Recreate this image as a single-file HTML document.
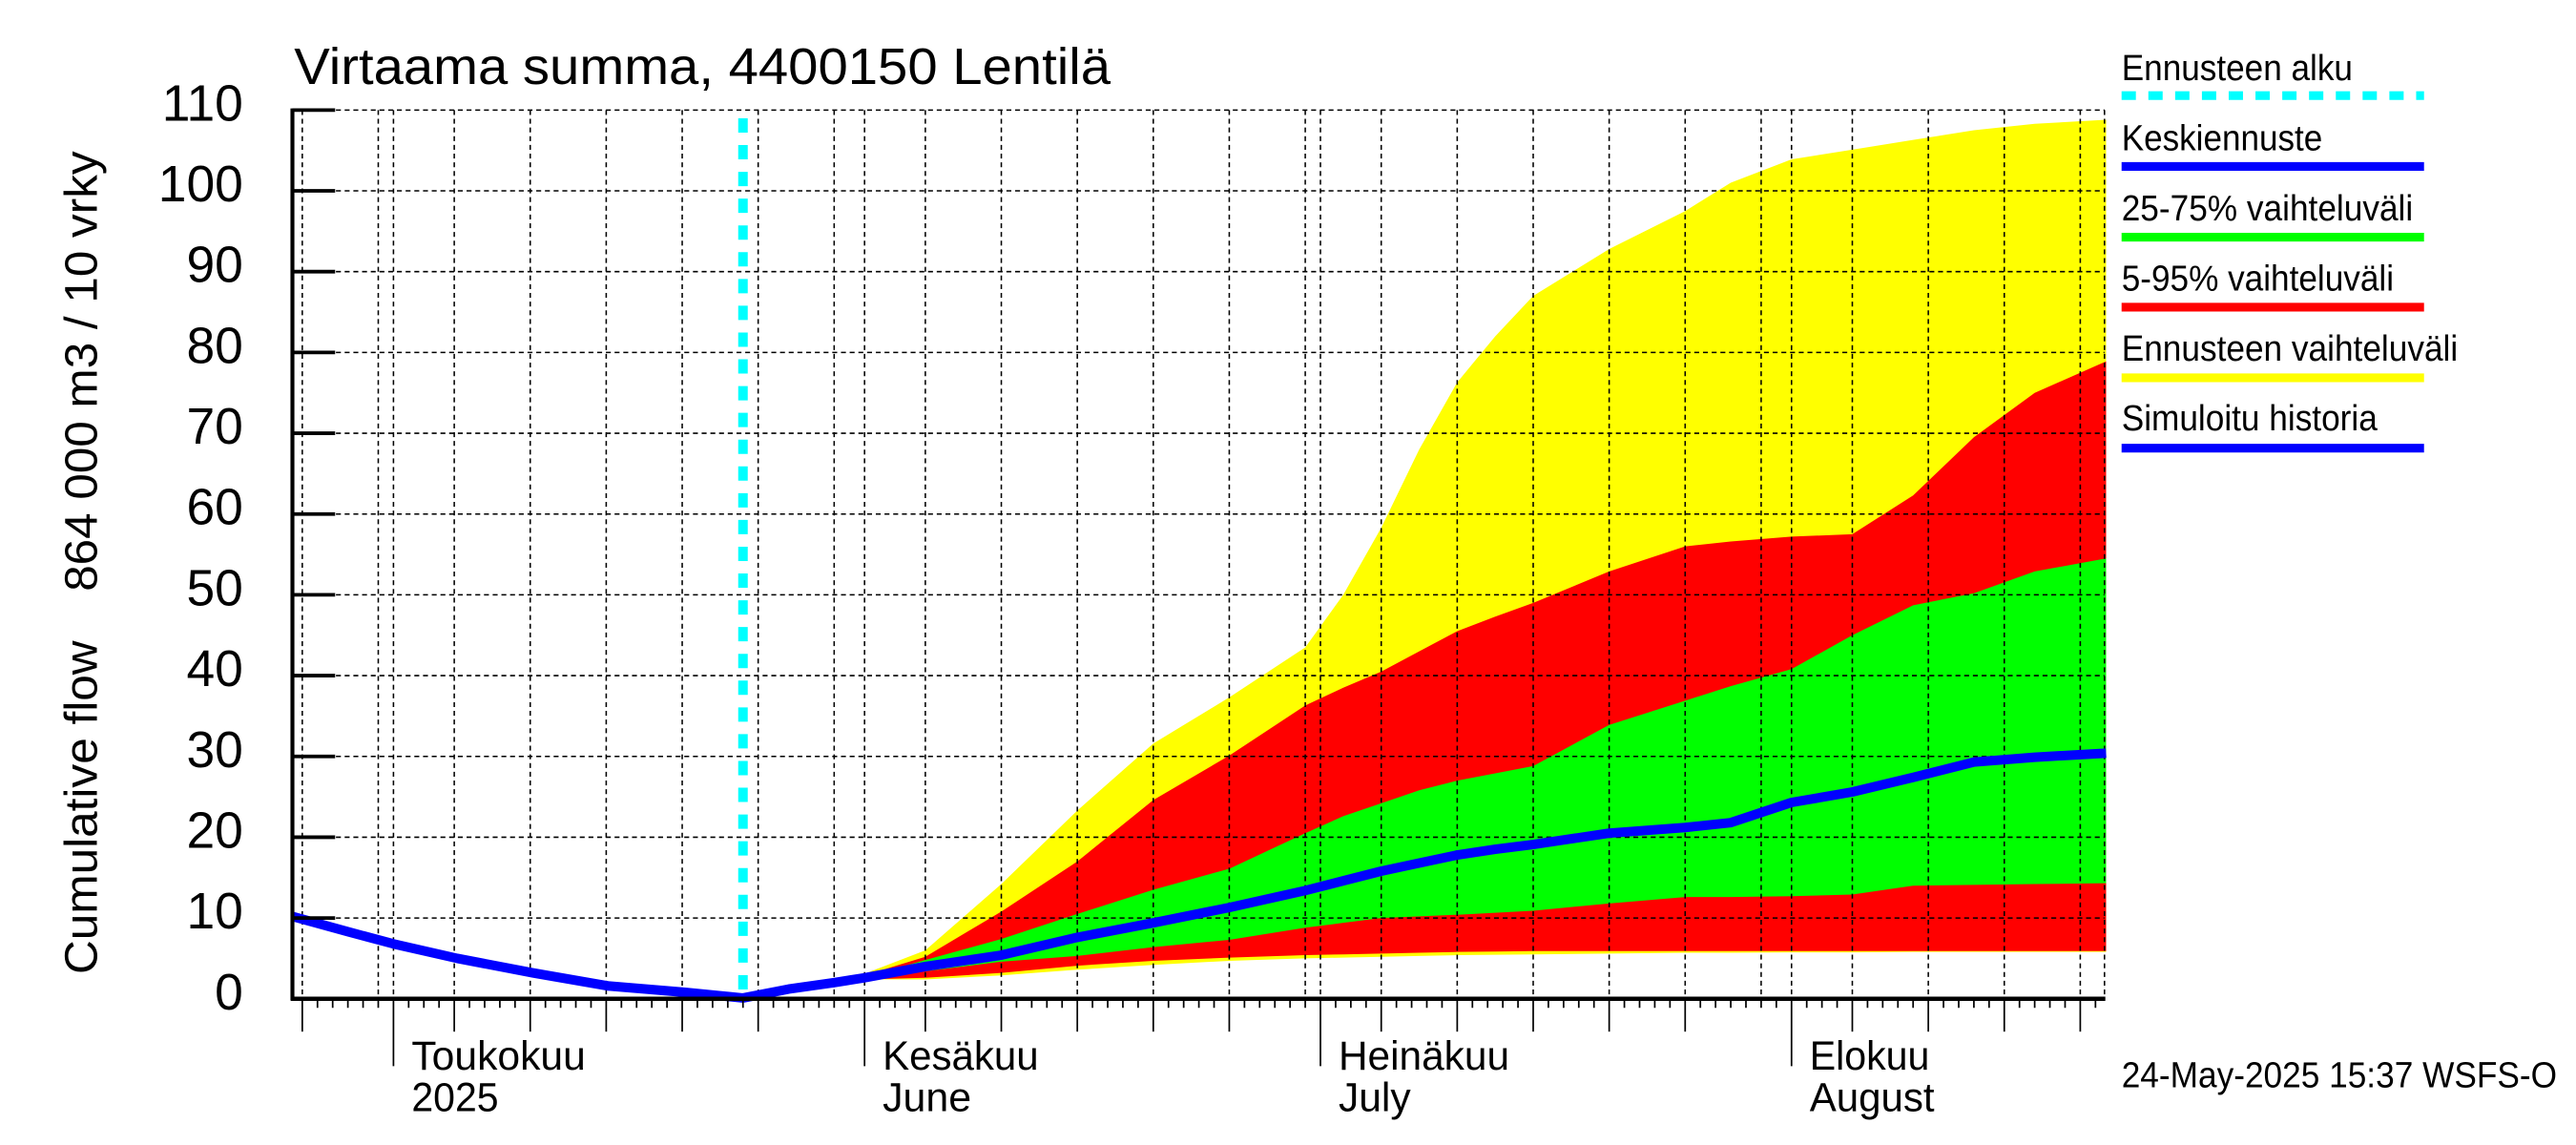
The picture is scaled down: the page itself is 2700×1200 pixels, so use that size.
<!DOCTYPE html>
<html><head><meta charset="utf-8"><title>Virtaama summa</title>
<style>html,body{margin:0;padding:0;background:#fff;}svg{display:block;}text{font-family:"Liberation Sans",sans-serif;fill:#000;}</style>
</head><body>
<svg id="chart" xmlns="http://www.w3.org/2000/svg" width="2700" height="1200" viewBox="0 0 1568 697" preserveAspectRatio="none">
<rect x="0" y="0" width="1568" height="697" fill="#fff"/>
<g id="bands"></g>
<g id="grid"></g>
<g id="series"></g>
<g id="axes"></g>
<text x="179" y="51" font-size="31" textLength="497" lengthAdjust="spacingAndGlyphs">Virtaama summa, 4400150 Lentilä</text>
<text transform="translate(59,593) rotate(-90)" font-size="28" textLength="203" lengthAdjust="spacingAndGlyphs">Cumulative flow</text>
<text transform="translate(59,360) rotate(-90)" font-size="28" textLength="268" lengthAdjust="spacingAndGlyphs">864 000 m3 / 10 vrky</text>
<g>
<text x="1291.4" y="48.9" font-size="22" textLength="140.7" lengthAdjust="spacingAndGlyphs">Ennusteen alku</text>
<line x1="1291.4" y1="58.2" x2="1475.5" y2="58.2" stroke="#00ffff" stroke-width="5.3" stroke-dasharray="8.7 7.6"/>
<text x="1291.4" y="91.5" font-size="22" textLength="122.3" lengthAdjust="spacingAndGlyphs">Keskiennuste</text>
<line x1="1291.4" y1="101.3" x2="1475.5" y2="101.3" stroke="#0000ff" stroke-width="5.3"/>
<text x="1291.4" y="134.2" font-size="22" textLength="177.4" lengthAdjust="spacingAndGlyphs">25-75% vaihteluväli</text>
<line x1="1291.4" y1="144.4" x2="1475.5" y2="144.4" stroke="#00ff00" stroke-width="5.3"/>
<text x="1291.4" y="176.8" font-size="22" textLength="165.7" lengthAdjust="spacingAndGlyphs">5-95% vaihteluväli</text>
<line x1="1291.4" y1="187" x2="1475.5" y2="187" stroke="#ff0000" stroke-width="5.3"/>
<text x="1291.4" y="219.5" font-size="22" textLength="204.7" lengthAdjust="spacingAndGlyphs">Ennusteen vaihteluväli</text>
<line x1="1291.4" y1="230" x2="1475.5" y2="230" stroke="#ffff00" stroke-width="5.3"/>
<text x="1291.4" y="262.1" font-size="22" textLength="155.7" lengthAdjust="spacingAndGlyphs">Simuloitu historia</text>
<line x1="1291.4" y1="272.8" x2="1475.5" y2="272.8" stroke="#0000ff" stroke-width="5.3"/>
</g>
<text x="1291.4" y="662" font-size="22" textLength="265" lengthAdjust="spacingAndGlyphs">24-May-2025 15:37 WSFS-O</text>
</svg>
<script>
// Days relative to 1 May 2025
const forecastDays = [23, 26, 29, 31, 35, 40, 45, 50, 55, 60, 62.5, 65, 67.5, 70, 72.5, 75, 80, 85, 88, 92, 96, 100, 104, 108, 112.7];
const maxValues = [0.1, 1.2, 2.0, 3.1, 6.0, 14.2, 23.3, 31.6, 37.3, 43.5, 50, 58.3, 68, 76.3, 82, 87, 92.8, 97.5, 101, 103.9, 105.1, 106.3, 107.5, 108.3, 108.8];
const p95Values = [0.1, 1.2, 2.0, 2.9, 5.2, 10.8, 17.0, 24.6, 30.1, 36.3, 38.5, 40.5, 43, 45.5, 47.3, 49.0, 52.9, 56.0, 56.6, 57.2, 57.5, 62.3, 69.5, 75.0, 78.9];
const p75Values = [0.1, 1.2, 2.0, 2.7, 4.8, 7.4, 10.5, 13.5, 16.1, 20.5, 22.6, 24.2, 25.8, 27.0, 27.9, 28.8, 33.9, 36.9, 38.7, 40.8, 45.0, 48.7, 50.2, 52.9, 54.5];
const medianValues = [0.1, 1.2, 2.0, 2.6, 4.0, 5.4, 7.6, 9.4, 11.3, 13.4, 14.6, 15.8, 16.8, 17.8, 18.5, 19.1, 20.5, 21.2, 21.8, 24.3, 25.6, 27.4, 29.3, 29.9, 30.4];
const p25Values = [0.1, 1.2, 2.0, 2.5, 3.4, 4.6, 5.3, 6.4, 7.3, 8.8, 9.4, 10.0, 10.2, 10.4, 10.65, 10.9, 11.8, 12.6, 12.6, 12.7, 12.9, 14.0, 14.1, 14.2, 14.3];
const p5Values = [0.1, 1.2, 2.0, 2.4, 2.6, 3.2, 4.1, 4.7, 5.1, 5.4, 5.5, 5.6, 5.7, 5.8, 5.85, 5.9, 5.9, 5.9, 5.9, 5.9, 5.9, 5.9, 5.9, 5.9, 5.9];
const minValues = [0.1, 1.2, 2.0, 2.4, 2.4, 2.9, 3.6, 4.2, 4.7, 5.0, 5.1, 5.2, 5.3, 5.4, 5.45, 5.5, 5.6, 5.7, 5.7, 5.75, 5.75, 5.8, 5.8, 5.8, 5.8];
const historyDays = [-6.65, -3, 0, 4.2, 9.2, 14.1, 19.2, 23];
const historyValues = [10.2, 8.3, 6.8, 5.0, 3.2, 1.6, 0.8, 0.1];
const yTicks = [0, 10, 20, 30, 40, 50, 60, 70, 80, 90, 100, 110];
const forecastStartDay = 23;
const monthStarts = [-30, 0, 31, 61, 92];
const monthNames = ["Huhtikuu", "Toukokuu", "Kesäkuu", "Heinäkuu", "Elokuu"];
const monthSub = ["", "2025", "June", "July", "August"];
const monthNameWidths = [0, 106, 95, 104, 73];
const monthSubWidths = [0, 53, 54, 44, 76];

const NS = "http://www.w3.org/2000/svg";
const X0 = 178, X1 = 1281, Y0 = 608, Y1 = 67;
const dayMin = -6.65, dayMax = 112.6;
function xs(d) { return 239.5 + 9.25 * d; }
function ys(v) { return Y0 - (v / 110) * (Y0 - Y1); }
function mk(tag, attrs, parent) {
  const e = document.createElementNS(NS, tag);
  for (const k in attrs) e.setAttribute(k, attrs[k]);
  parent.appendChild(e);
  return e;
}
const bands = document.getElementById('bands');
const grid = document.getElementById('grid');
const series = document.getElementById('series');
const axes = document.getElementById('axes');

function band(lo, hi, color, name) {
  const pts = [];
  for (let i = 0; i < forecastDays.length; i++) pts.push(xs(forecastDays[i]).toFixed(2) + ',' + ys(hi[i]).toFixed(2));
  for (let i = forecastDays.length - 1; i >= 0; i--) pts.push(xs(forecastDays[i]).toFixed(2) + ',' + ys(lo[i]).toFixed(2));
  const p = mk('polygon', { points: pts.join(' '), fill: color }, bands);
  
  
}
band(minValues, maxValues, '#ffff00', 'band-forecast-range');
band(p5Values, p95Values, '#ff0000', 'band-5-95');
band(p25Values, p75Values, '#00ff00', 'band-25-75');

for (const t of yTicks) {
  if (t === 0) continue;
  const l = mk('line', { x1: X0, x2: X1, y1: ys(t), y2: ys(t), stroke: '#000', 'stroke-width': 0.9, 'stroke-dasharray': '3 2.3' }, grid);
  
  
}
const monthLens = [30, 31, 30, 31, 31];
for (let m = 0; m < monthStarts.length; m++) {
  const dom = [1, 5, 10, 15, 20, 25, 30];
  for (const dd of dom) {
    if (dd > monthLens[m]) continue;
    const d = monthStarts[m] + dd - 1;
    if (d < dayMin || d > dayMax) continue;
    const l = mk('line', { x1: xs(d), x2: xs(d), y1: Y1, y2: Y0, stroke: '#000', 'stroke-width': 0.9, 'stroke-dasharray': '3 2.3' }, grid);
    
    
  }
}
const rEdge = mk('line', { x1: X1, x2: X1, y1: Y1, y2: Y0, stroke: '#000', 'stroke-width': 0.9, 'stroke-dasharray': '3 2.3' }, grid);



const fs = mk('line', { x1: xs(forecastStartDay), x2: xs(forecastStartDay), y1: 72, y2: Y0, stroke: '#00ffff', 'stroke-width': 5.8, 'stroke-dasharray': '8.7 7.6' }, series);



function line(days, vals, name) {
  const pts = days.map((d, i) => xs(d).toFixed(2) + ',' + ys(vals[i]).toFixed(2)).join(' ');
  const p = mk('polyline', { points: pts, fill: 'none', stroke: '#0000ff', 'stroke-width': 5.8, 'stroke-linejoin': 'round' }, series);
  
  
}
line(historyDays, historyValues, 'simulated-history-line');
line(forecastDays, medianValues, 'median-forecast-line');

const ax = mk('line', { x1: X0, x2: X0, y1: Y1 - 1, y2: Y0 + 1, stroke: '#000', 'stroke-width': 2.4 }, axes);


const bx = mk('line', { x1: X0 - 1, x2: X1 + 0.5, y1: Y0, y2: Y0, stroke: '#000', 'stroke-width': 2.6 }, axes);


for (const t of yTicks) {
  const tk = mk('line', { x1: X0, x2: 204, y1: ys(t), y2: ys(t), stroke: '#000', 'stroke-width': 2.2 }, axes);
  
  
  const tx = mk('text', { x: 148, y: ys(t) + 6.4, 'font-size': 31, 'text-anchor': 'end' }, axes);
  tx.textContent = String(t);
  
  
}
for (let m = 0; m < monthStarts.length; m++) {
  for (let dd = 1; dd <= monthLens[m]; dd++) {
    const d = monthStarts[m] + dd - 1;
    if (d < dayMin || d > dayMax) continue;
    let len = 5.5;
    if (dd === 1) len = 41;
    else if (dd % 5 === 0 && dd !== 30) len = 20;
    const tk = mk('line', { x1: xs(d), x2: xs(d), y1: Y0, y2: Y0 + len, stroke: '#000', 'stroke-width': 1 }, axes);
    
    
  }
  if (monthNames[m] && monthStarts[m] >= 0) {
    const x = xs(monthStarts[m]) + 11;
    const t1 = mk('text', { x: x, y: 651, 'font-size': 25, textLength: monthNameWidths[m], lengthAdjust: 'spacingAndGlyphs' }, axes);
    t1.textContent = monthNames[m];
    
    
    const t2 = mk('text', { x: x, y: 676.5, 'font-size': 25, textLength: monthSubWidths[m], lengthAdjust: 'spacingAndGlyphs' }, axes);
    t2.textContent = monthSub[m];
    
    
  }
}
</script>
</body></html>
